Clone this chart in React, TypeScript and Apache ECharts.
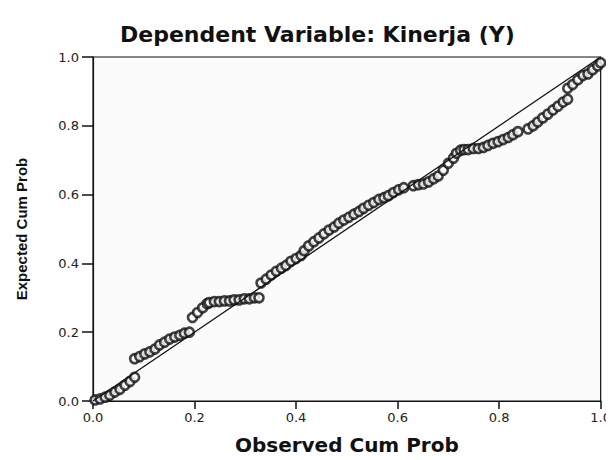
import React, { useEffect, useRef } from "react";
import * as echarts from "echarts";

const titleText = "Dependent Variable: Kinerja (Y)";
const xAxisName = "Observed Cum Prob";
const yAxisName = "Expected Cum Prob";

// Observed cumulative probability (x) of each case
const observed = [
  0.004, 0.014, 0.024, 0.033, 0.043, 0.053, 0.063, 0.073, 0.082,
  0.082, 0.092, 0.102, 0.112, 0.122, 0.131, 0.141, 0.151, 0.161, 0.171, 0.180, 0.190,
  0.196, 0.206, 0.216, 0.225,
  0.229, 0.239, 0.249, 0.259, 0.269, 0.278, 0.288, 0.298, 0.308, 0.318, 0.327,
  0.331, 0.341, 0.351, 0.361, 0.371, 0.380, 0.390, 0.400, 0.410,
  0.416, 0.425, 0.435, 0.445, 0.455, 0.465, 0.475, 0.484, 0.494, 0.504, 0.514, 0.524,
  0.533, 0.543, 0.553, 0.563, 0.573, 0.582, 0.592, 0.602, 0.612, 0.631,
  0.641, 0.651, 0.661, 0.671, 0.680, 0.690, 0.700, 0.710, 0.716, 0.724,
  0.731, 0.739, 0.749, 0.759, 0.769, 0.778, 0.788, 0.798, 0.808, 0.818, 0.827, 0.837,
  0.857, 0.867, 0.876, 0.886, 0.896, 0.906, 0.916, 0.926, 0.935,
  0.935, 0.945, 0.955, 0.965, 0.975, 0.984, 0.994, 1.0,
];

// Expected cumulative probability (y) of each case
const expected = [
  0.003, 0.006, 0.011, 0.017, 0.026, 0.034, 0.046, 0.057, 0.069,
  0.123, 0.129, 0.137, 0.143, 0.151, 0.163, 0.171, 0.180, 0.186, 0.191, 0.197, 0.200,
  0.243, 0.257, 0.271, 0.283,
  0.286, 0.289, 0.289, 0.291, 0.291, 0.294, 0.294, 0.297, 0.297, 0.300, 0.300,
  0.343, 0.354, 0.366, 0.377, 0.386, 0.394, 0.406, 0.414, 0.423,
  0.437, 0.451, 0.463, 0.474, 0.486, 0.497, 0.506, 0.517, 0.526, 0.534, 0.543, 0.551,
  0.560, 0.569, 0.577, 0.586, 0.591, 0.597, 0.606, 0.614, 0.620, 0.626,
  0.629, 0.631, 0.637, 0.646, 0.654, 0.671, 0.691, 0.706, 0.720, 0.729,
  0.731, 0.731, 0.734, 0.734, 0.737, 0.743, 0.749, 0.754, 0.760, 0.766, 0.774, 0.783,
  0.791, 0.800, 0.811, 0.823, 0.834, 0.846, 0.857, 0.869, 0.877,
  0.909, 0.920, 0.934, 0.946, 0.951, 0.963, 0.974, 0.983,
];

const refLine = [
  [0, 0],
  [1, 1],
];

const wideFont = "'DejaVu Sans', Verdana, sans-serif";
const narrowFont = "'Liberation Sans', Arial, Helvetica, sans-serif";

export default function App() {
  const ref = useRef<HTMLDivElement>(null);

  useEffect(() => {
    if (!ref.current) return;
    const chart = echarts.init(ref.current, null, { renderer: "svg" });
    const points = observed.map((x, i) => [x, expected[i]]);
    const fmt = (v: number) => v.toFixed(1);
    chart.setOption({
      animation: false,
      backgroundColor: "#ffffff",
      title: {
        text: titleText,
        left: 115,
        top: 18,
        textStyle: {
          fontFamily: wideFont,
          fontSize: 22,
          fontWeight: "bold",
          color: "#111",
        },
      },
      grid: {
        left: 93,
        right: 11,
        top: 57,
        bottom: 55,
        show: true,
        borderColor: "#111",
        borderWidth: 1.2,
        backgroundColor: "#fbfbfb",
      },
      xAxis: {
        type: "value",
        min: 0,
        max: 1,
        interval: 0.2,
        name: xAxisName,
        nameLocation: "middle",
        nameGap: 34,
        nameTextStyle: {
          fontFamily: wideFont,
          fontSize: 20,
          fontWeight: "bold",
          color: "#111",
        },
        axisLine: { show: true, lineStyle: { color: "#111", width: 1.2 } },
        axisTick: { show: true, length: 8, lineStyle: { color: "#111", width: 1.5 } },
        axisLabel: {
          fontFamily: wideFont,
          fontSize: 13,
          color: "#222",
          margin: 10,
          formatter: fmt,
        },
        splitLine: { show: false },
      },
      yAxis: {
        type: "value",
        min: 0,
        max: 1,
        interval: 0.2,
        name: yAxisName,
        nameLocation: "middle",
        nameGap: 64,
        nameTextStyle: {
          fontFamily: narrowFont,
          fontSize: 15,
          fontWeight: "bold",
          color: "#111",
        },
        axisLine: { show: true, lineStyle: { color: "#111", width: 1.2 } },
        axisTick: { show: true, length: 11, lineStyle: { color: "#111", width: 1.5 } },
        axisLabel: {
          fontFamily: wideFont,
          fontSize: 13,
          color: "#222",
          margin: 14,
          formatter: fmt,
        },
        splitLine: { show: false },
      },
      series: [
        {
          type: "line",
          data: refLine,
          symbol: "none",
          lineStyle: { color: "#111", width: 1.3 },
          z: 3,
        },
        {
          type: "scatter",
          data: points,
          symbol: "circle",
          symbolSize: 9,
          itemStyle: {
            color: "#ffffff",
            borderColor: "#111",
            borderWidth: 2.6,
          },
          z: 2,
        },
      ],
    });
    return () => chart.dispose();
  }, []);

  return <div ref={ref} style={{ width: 614, height: 460, margin: -8 }} />;
}
